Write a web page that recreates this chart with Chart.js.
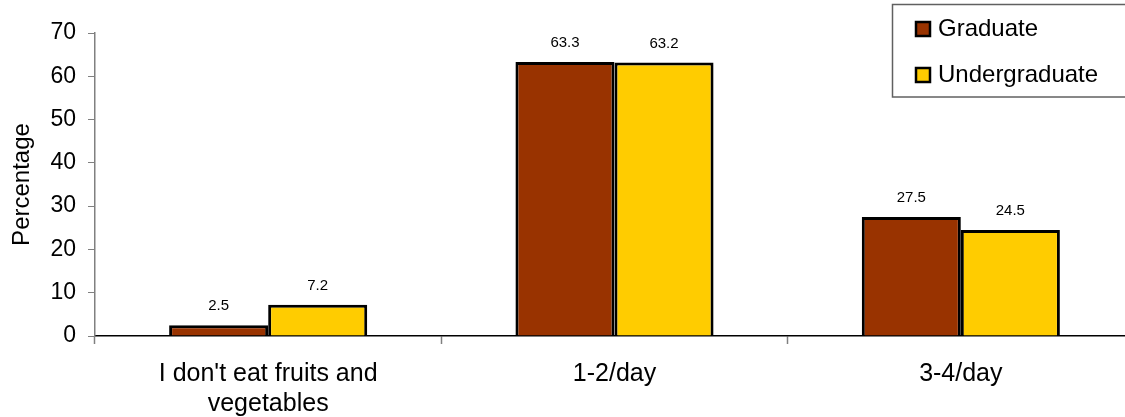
<!DOCTYPE html>
<html>
<head>
<meta charset="utf-8">
<script src="https://cdn.jsdelivr.net/npm/chart.js@4/dist/chart.umd.min.js"></script>
<style>
html,body{margin:0;padding:0;background:#fff;overflow:hidden;width:1125px;height:417px;}
#wrap{position:relative;width:1134px;height:417px;}
</style>
</head>
<body>
<div id="wrap"><canvas id="c" width="1134" height="417"></canvas></div>
<script>
const categories = [["I don't eat fruits and", "vegetables"], "1-2/day", "3-4/day"];
const graduate = [2.5, 63.3, 27.5];
const undergraduate = [7.2, 63.2, 24.5];
const seriesNames = ["Graduate", "Undergraduate"];
const seriesColors = ["#993300", "#FFCC00"];
const yTicks = [0, 10, 20, 30, 40, 50, 60, 70];

const FONT = "'Liberation Sans', Arial, sans-serif";

const valueLabels = {
  id: 'valueLabels',
  afterDatasetsDraw(chart) {
    const ctx = chart.ctx;
    ctx.save();
    ctx.font = "15px " + FONT;
    ctx.fillStyle = "#000";
    ctx.textAlign = "center";
    ctx.textBaseline = "middle";
    chart.data.datasets.forEach((ds, i) => {
      chart.getDatasetMeta(i).data.forEach((bar, j) => {
        ctx.fillText(ds.data[j].toFixed(1), bar.x, bar.y - 19);
      });
    });
    ctx.restore();
  }
};

const boxLegend = {
  id: 'boxLegend',
  afterDraw(chart) {
    const ctx = chart.ctx;
    ctx.save();
    ctx.strokeStyle = "#606060";
    ctx.lineWidth = 1.5;
    ctx.strokeRect(892.5, 4.5, 260, 92.5);
    ctx.font = "24px " + FONT;
    ctx.textBaseline = "alphabetic";
    ctx.textAlign = "left";
    const rows = [29, 75];
    chart.data.datasets.forEach((ds, i) => {
      const y = rows[i];
      ctx.fillStyle = ds.backgroundColor;
      ctx.fillRect(916, y - 7, 14, 14);
      ctx.strokeStyle = "#000";
      ctx.lineWidth = 2.5;
      ctx.strokeRect(916, y - 7, 14, 14);
      ctx.fillStyle = "#000";
      ctx.fillText(ds.label, 938, y + 7);
    });
    ctx.restore();
  }
};

new Chart(document.getElementById('c'), {
  type: 'bar',
  data: {
    labels: categories,
    datasets: [
      { label: seriesNames[0], data: graduate, backgroundColor: seriesColors[0], borderColor: "#000", borderWidth: 3, borderSkipped: 'bottom' },
      { label: seriesNames[1], data: undergraduate, backgroundColor: seriesColors[1], borderColor: "#000", borderWidth: 3, borderSkipped: 'bottom' }
    ]
  },
  options: {
    responsive: false,
    animation: false,
    devicePixelRatio: 1,
    layout: { padding: { top: 33, right: 0, left: 0, bottom: 0 } },
    datasets: { bar: { categoryPercentage: 0.572, barPercentage: 1.0 } },
    plugins: { legend: { display: false }, tooltip: { enabled: false } },
    scales: {
      x: {
        offset: true,
        grid: { offset: true, drawOnChartArea: false, tickLength: 8, color: "#808080", tickWidth: 1.5 },
        border: { color: "#000", width: 1.5 },
        ticks: { color: "#000", font: { family: FONT, size: 25, lineHeight: 1.2 }, padding: 15, maxRotation: 0, autoSkip: false },
        afterFit(s) { s.height = 81; }
      },
      y: {
        min: 0, max: 70,
        afterBuildTicks(s) { s.ticks = yTicks.map(v => ({ value: v })); },
        grid: { drawOnChartArea: false, tickLength: 7, color: "#808080" },
        border: { color: "#808080", width: 1.5 },
        ticks: { color: "#000", font: { family: FONT, size: 23 }, padding: 12 },
        title: { display: true, text: "Percentage", color: "#000", font: { family: FONT, size: 24, lineHeight: 1.2 }, padding: { top: 8, bottom: 0 } },
        afterFit(s) { s.width = 95; }
      }
    }
  },
  plugins: [valueLabels, boxLegend]
});
</script>
</body>
</html>
